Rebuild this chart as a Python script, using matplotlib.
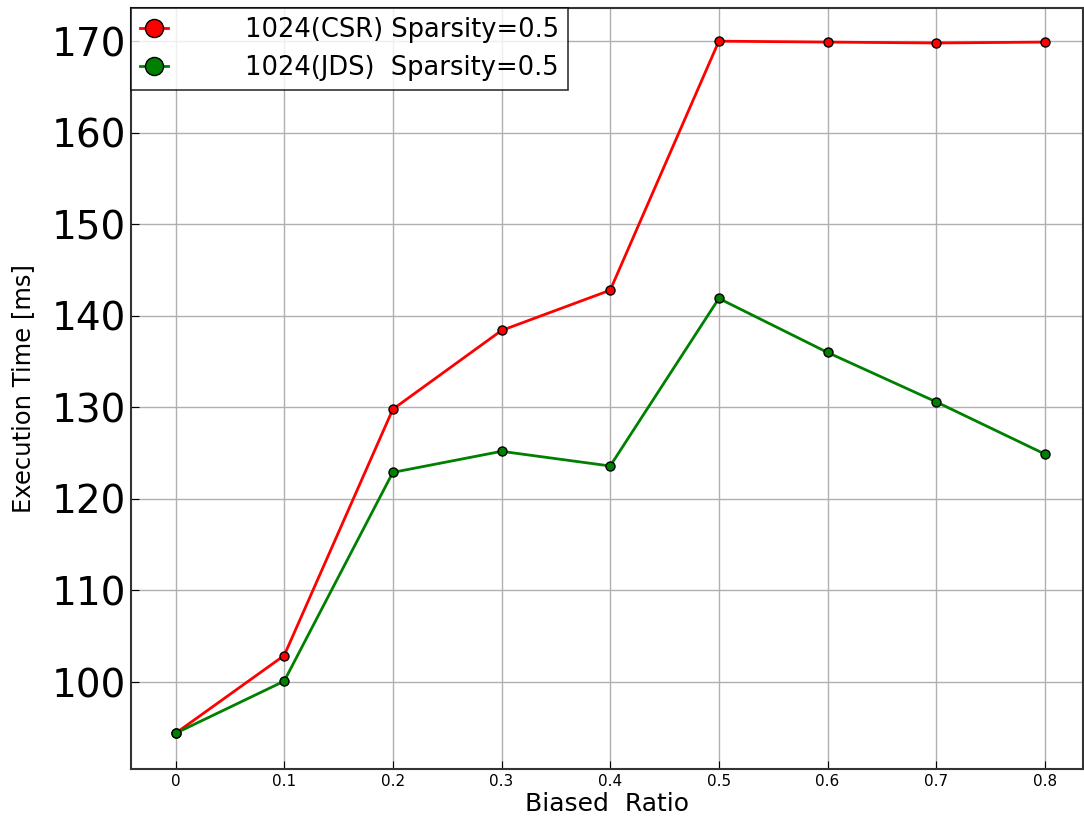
import matplotlib
matplotlib.use("Agg")
import matplotlib.pyplot as plt

ratios = [0, 0.1, 0.2, 0.3, 0.4, 0.5, 0.6, 0.7, 0.8]
xtick_labels = ["0", "0.1", "0.2", "0.3", "0.4", "0.5", "0.6", "0.7", "0.8"]
csr_times = [94.4, 102.9, 129.8, 138.4, 142.8, 170.0, 169.9, 169.8, 169.9]
jds_times = [94.4, 100.1, 122.9, 125.2, 123.6, 141.9, 136.0, 130.6, 124.9]
csr_label = "1024(CSR) Sparsity=0.5"
jds_label = "1024(JDS)  Sparsity=0.5"

fig = plt.figure(figsize=(10.84, 8.21), dpi=100)
ax = fig.add_axes([0.1208, 0.0633, 0.8782, 0.9267])

ax.plot(ratios, csr_times, color="red", lw=2, marker="o", ms=6.5,
        mfc="red", mec="black", mew=1.0, label=csr_label, zorder=3)
ax.plot(ratios, jds_times, color="green", lw=2, marker="o", ms=6.5,
        mfc="green", mec="black", mew=1.0, label=jds_label, zorder=3)

ax.set_xlim(-0.041, 0.835)
ax.set_ylim(90.5, 173.6)
ax.set_xticks(ratios)
ax.set_xticklabels(xtick_labels, fontsize=11)
ax.set_yticks([100, 110, 120, 130, 140, 150, 160, 170])
ax.tick_params(axis="y", labelsize=28, direction="in", length=6)
ax.tick_params(axis="x", direction="in", length=6)
ax.grid(True, color="#b0b0b0", lw=1)
ax.set_axisbelow(True)
for s in ax.spines.values():
    s.set_linewidth(1.5)
    s.set_color("#333333")

ax.set_xlabel("Biased  Ratio", fontsize=18, labelpad=2)
ax.set_ylabel("Execution Time [ms]", fontsize=17.5, labelpad=12)

leg = ax.legend(loc="upper left", bbox_to_anchor=(0.0, 1.0), fontsize=18.5,
                markerscale=2.0, handlelength=1.1, handletextpad=3.0,
                borderaxespad=0, frameon=True, fancybox=False,
                edgecolor="black", borderpad=0.35, labelspacing=0.45)
leg.get_frame().set_linewidth(1.2)

fig.savefig("out.png", dpi=100)
